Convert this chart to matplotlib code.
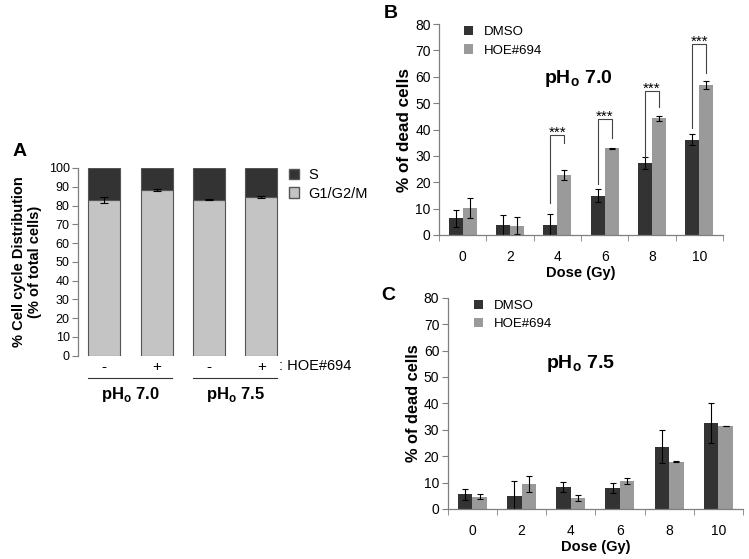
import numpy as np
import matplotlib
matplotlib.use("Agg")
import matplotlib.pyplot as plt
from matplotlib.patches import Patch

plt.rcParams["font.family"] = ["Liberation Sans", "DejaVu Sans"]
plt.rcParams["mathtext.fontset"] = "custom"
plt.rcParams["mathtext.rm"] = "Liberation Sans"
plt.rcParams["mathtext.bf"] = "Liberation Sans:bold"

# panel A: cell cycle distribution
a_treat = ["-", "+", "-", "+"]
a_g1 = [83.0, 88.5, 83.2, 84.6]
a_g1_err = [1.8, 0.5, 0.3, 0.6]
a_groups = ["pH$_\\mathbf{o}$ 7.0", "pH$_\\mathbf{o}$ 7.5"]

# panels B/C: dead cells vs dose
doses = ["0", "2", "4", "6", "8", "10"]
b_dmso = [6.3, 3.7, 3.9, 14.9, 27.2, 36.2]
b_dmso_err = [3.2, 3.7, 4.1, 2.5, 2.2, 2.1]
b_hoe = [10.4, 3.5, 22.7, 32.8, 44.2, 56.8]
b_hoe_err = [3.8, 3.3, 1.9, 0.2, 1.1, 1.4]
c_dmso = [5.5, 5.0, 8.4, 8.0, 23.6, 32.7]
c_dmso_err = [2.0, 5.6, 2.0, 2.0, 6.3, 7.6]
c_hoe = [4.6, 9.6, 4.2, 10.5, 17.9, 31.5]
c_hoe_err = [0.9, 3.0, 1.0, 1.2, 0.1, 0.1]

# significance brackets in B (group index, left leg bottom, top, right leg bottom)
sig_idx = [2, 3, 4, 5]
sig_left = [12.0, 19.5, 29.5, 40.5]
sig_top = [38.0, 44.0, 54.7, 72.6]
sig_right = [35.0, 36.7, 48.5, 61.5]

DARK = "#333333"
MID = "#9a9a9a"
LIGHT = "#c4c4c4"
SPINE = "#7f7f7f"
W, H = 749, 559

fig = plt.figure(figsize=(W / 100, H / 100), dpi=100)


def px_axes(x0, x1, ytop, ybot):
    return fig.add_axes([x0 / W, 1 - ybot / H, (x1 - x0) / W, (ybot - ytop) / H])


def style(ax, fs):
    for s in ["top", "right"]:
        ax.spines[s].set_visible(False)
    for s in ["left", "bottom"]:
        ax.spines[s].set_color(SPINE)
        ax.spines[s].set_linewidth(0.9)
    ax.tick_params(axis="y", direction="out", length=4, color=SPINE, labelsize=fs, pad=2)


# ---- A
axA = px_axes(78, 287.5, 168, 355.7)
style(axA, 9)
xa = np.arange(len(a_g1))
s_part = [100 - g for g in a_g1]
axA.bar(xa, a_g1, 0.61, color=LIGHT, edgecolor="#555555", linewidth=0.8)
axA.bar(xa, s_part, 0.61, bottom=a_g1, color=DARK, edgecolor="#555555", linewidth=0.8)
axA.errorbar(xa, a_g1, yerr=a_g1_err, fmt="none", ecolor="black", elinewidth=0.8, capsize=3, capthick=0.8)
axA.set_xlim(-0.5, 3.5)
axA.set_ylim(0, 100)
axA.set_yticks(range(0, 101, 10))
axA.spines["bottom"].set_visible(False)
axA.set_xticks(xa)
axA.set_xticklabels(a_treat, fontsize=11)
axA.tick_params(axis="x", length=0, pad=3)
axA.set_ylabel("% Cell cycle Distribution\n(% of total cells)", fontsize=10.5, fontweight="bold", labelpad=5)
axA.text(0.96, -0.055, ": HOE#694", transform=axA.transAxes, fontsize=10.5, va="center", ha="left")
for i, lab in enumerate(a_groups):
    x0, x1 = 2 * i - 0.3, 2 * i + 1.3
    axA.plot([x0, x1], [-12, -12], color="#333333", lw=0.8, clip_on=False)
    axA.text(2 * i + 0.5, -20.5, lab, ha="center", va="center", fontsize=12, fontweight="bold")
axA.legend(handles=[Patch(facecolor=DARK, edgecolor="#555555", label="S"),
                    Patch(facecolor=LIGHT, edgecolor="#555555", label="G1/G2/M")],
           loc="upper left", bbox_to_anchor=(0.98, 1.03), frameon=False, fontsize=10.5,
           handlelength=0.7, handleheight=0.7, handletextpad=0.6, labelspacing=0.3, borderaxespad=0)
fig.text(13 / W, 1 - 152 / H, "A", fontsize=14, fontweight="bold", va="center")


def dose_panel(ax, dmso, dmso_err, hoe, hoe_err, title, tx, ty, ylab_fs):
    style(ax, 10)
    x = np.arange(len(doses))
    w = 0.295
    ax.bar(x - w / 2, dmso, w, color=DARK, label="DMSO")
    ax.bar(x + w / 2, hoe, w, color=MID, label="HOE#694")
    ax.errorbar(x - w / 2, dmso, yerr=dmso_err, fmt="none", ecolor="black", elinewidth=0.8, capsize=2.5, capthick=0.8)
    ax.errorbar(x + w / 2, hoe, yerr=hoe_err, fmt="none", ecolor="black", elinewidth=0.8, capsize=2.5, capthick=0.8)
    ax.set_xlim(-0.5, len(doses) - 0.5)
    ax.set_ylim(0, 80)
    ax.set_yticks(range(0, 81, 10))
    ax.set_xticks(x)
    ax.set_xticklabels(doses)
    ax.set_xticks(np.arange(-0.5, len(doses)), minor=True)
    ax.tick_params(axis="x", which="major", length=0, labelsize=10, pad=11)
    ax.tick_params(axis="x", which="minor", direction="out", length=4, color=SPINE)
    ax.set_xlabel("Dose (Gy)", fontsize=10.5, fontweight="bold", labelpad=1)
    ax.set_ylabel("% of dead cells", fontsize=ylab_fs, fontweight="bold", labelpad=2)
    ax.text(tx, ty, title, transform=ax.transAxes, ha="center", va="center", fontsize=14, fontweight="bold")
    ax.legend(loc="upper left", bbox_to_anchor=(0.07, 1.015), frameon=False, fontsize=9.5,
              handlelength=0.7, handleheight=0.7, handletextpad=0.8, labelspacing=0.45, borderaxespad=0)
    return x, w


# ---- B
axB = px_axes(439, 723, 24, 235)
xb, wb = dose_panel(axB, b_dmso, b_dmso_err, b_hoe, b_hoe_err, "pH$_\\mathbf{o}$ 7.0", 0.49, 0.74, 12.3)
for g, yl, yt, yr in zip(sig_idx, sig_left, sig_top, sig_right):
    xl, xr = xb[g] - wb / 2, xb[g] + wb / 2
    axB.plot([xl, xl, xr, xr], [yl, yt, yt, yr], color="#444444", lw=0.8)
    axB.text((xl + xr) / 2, yt - 0.7, "***", ha="center", va="baseline", fontsize=11)
fig.text(384 / W, 1 - 14 / H, "B", fontsize=14, fontweight="bold", va="center")

# ---- C
axC = px_axes(447.7, 743, 297.7, 509)
dose_panel(axC, c_dmso, c_dmso_err, c_hoe, c_hoe_err, "pH$_\\mathbf{o}$ 7.5", 0.45, 0.69, 11.8)
fig.text(381 / W, 1 - 295 / H, "C", fontsize=14, fontweight="bold", va="center")

fig.savefig("out.png", dpi=100)
